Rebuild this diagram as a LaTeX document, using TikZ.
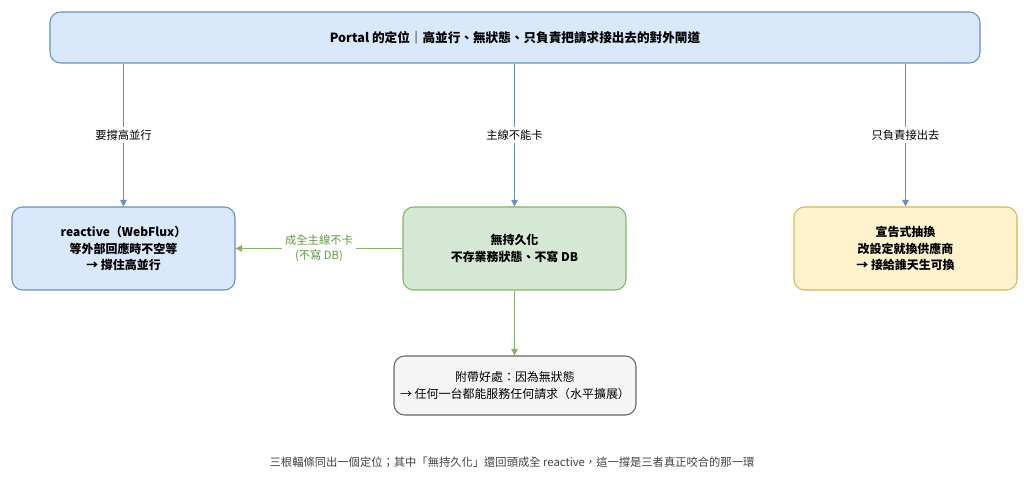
\documentclass[tikz,border=0pt]{standalone}
\usepackage{fontspec}
\setmainfont{Noto Sans CJK TC}
\usetikzlibrary{arrows.meta}
\begin{document}
\begin{tikzpicture}[x=0.0264583cm,y=-0.0264583cm,
  box/.style={draw, rounded corners=8pt, line width=0.8pt, align=center, inner sep=0pt, minimum width=223*0.0264583cm, minimum height=83*0.0264583cm, font=\fontsize{9}{12.5}\selectfont\bfseries},
  blue/.style={box, draw={rgb,255:red,108;green,142;blue,191}, fill={rgb,255:red,218;green,232;blue,252}},
  green/.style={box, draw={rgb,255:red,130;green,179;blue,102}, fill={rgb,255:red,213;green,232;blue,212}},
  yellow/.style={box, draw={rgb,255:red,214;green,182;blue,86}, fill={rgb,255:red,255;green,242;blue,204}},
  grey/.style={box, draw={rgb,255:red,102;green,102;blue,102}, fill={rgb,255:red,245;green,245;blue,245}, font=\fontsize{9}{12.5}\selectfont, minimum width=242*0.0264583cm, minimum height=59*0.0264583cm},
  barr/.style={-{Triangle[length=5pt,width=5pt]}, line width=0.6pt, draw={rgb,255:red,108;green,142;blue,191}},
  garr/.style={-{Triangle[length=5pt,width=5pt]}, line width=0.6pt, draw={rgb,255:red,130;green,179;blue,102}},
  lab/.style={fill=white, inner sep=2pt, font=\fontsize{8.5}{11}\selectfont, align=center}]
\useasboundingbox (0,0) rectangle (1024,478);
\node[blue, minimum width=930*0.0264583cm, minimum height=51*0.0264583cm, font=\fontsize{9.5}{12}\selectfont\bfseries] (top) at (515,37.5) {Portal 的定位｜高並行、無狀態、只負責把請求接出去的對外閘道};
\node[blue] (L) at (123.5,248.5) {reactive（WebFlux）\\等外部回應時不空等\\→ 撐住高並行};
\node[green] (M) at (514.5,248.5) {無持久化\\不存業務狀態、不寫 DB};
\node[yellow] (R) at (905.5,248.5) {宣告式抽換\\改設定就換供應商\\→ 接給誰天生可換};
\node[grey] (B) at (515,385.5) {附帶好處：因為無狀態\\→ 任何一台都能服務任何請求（水平擴展）};
\draw[barr] (top.south -| L.north) -- node[lab]{要撐高並行} (L.north);
\draw[barr] (top.south -| M.north) -- node[lab]{主線不能卡} (M.north);
\draw[barr] (top.south -| R.north) -- node[lab]{只負責接出去} (R.north);
\draw[garr] (M.west) -- node[lab, text={rgb,255:red,100;green,150;blue,70}]{成全主線不卡\\(不寫 DB)} (L.east);
\draw[garr] (M.south) -- (B.north -| M.south);
\node[font=\fontsize{8.5}{11}\selectfont, text=black!75] (cap) at (512,462) {三根輻條同出一個定位；其中「無持久化」還回頭成全 reactive，這一撐是三者真正咬合的那一環};
\end{tikzpicture}
\end{document}
